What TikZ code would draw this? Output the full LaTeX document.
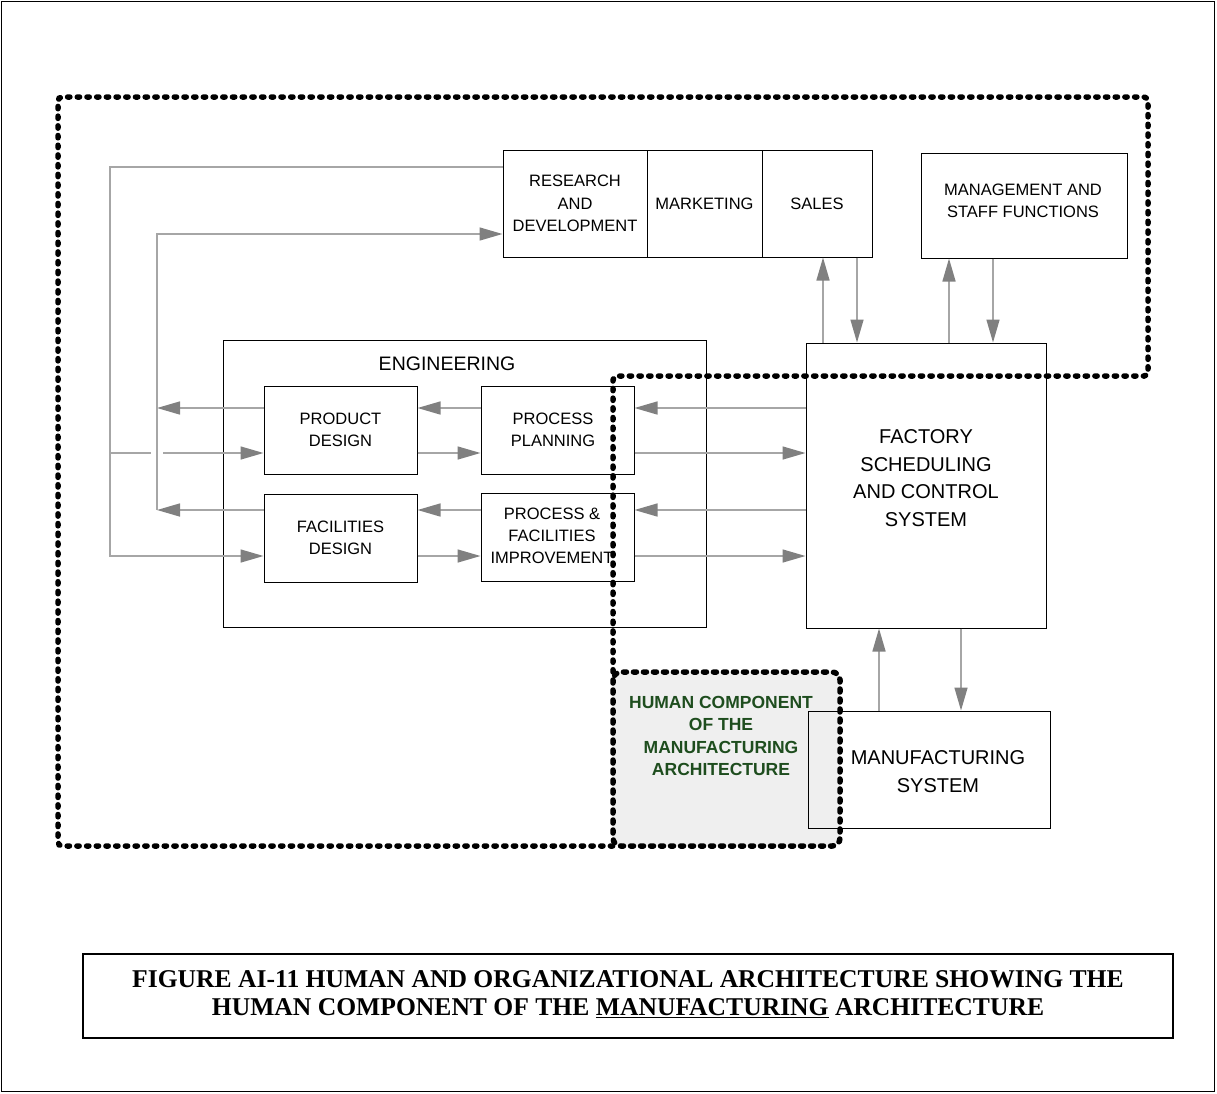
\documentclass[tikz,border=0pt]{standalone}
\usepackage{fontspec}
\setmainfont{Liberation Sans}
\newfontfamily\capfont{Liberation Serif}
\usetikzlibrary{arrows.meta}
\definecolor{linegray}{HTML}{A6A6A6}
\definecolor{tipgray}{HTML}{808080}
\definecolor{humangreen}{HTML}{1E4D1E}
\definecolor{humanfill}{HTML}{EFEFEF}
\begin{document}
\begin{tikzpicture}[x=1pt,y=-1pt,
 box/.style={draw=black, line width=1pt, inner sep=0pt, align=center, font=\fontsize{16.5}{22.5}\selectfont},
 lbl/.style={inner sep=0pt, align=center},
 conn/.style={draw=linegray, line width=1.5pt},
 arr/.style={conn, -{Triangle[length=23pt,width=13pt,color=tipgray]}},
 dotline/.style={line width=5.5pt, dash pattern=on 2.3pt off 7.4pt, line cap=round, rounded corners=4pt},
 humanline/.style={line width=5.5pt, dash pattern=on 3pt off 7pt, line cap=round, rounded corners=8pt},
]
\useasboundingbox (0,0) rectangle (1217,1093);
\draw[line width=1pt] (1,1) rectangle (1214,1091);

% human component fill (behind everything)
\fill[humanfill, rounded corners=8pt] (613,672) rectangle (840,846);

% boxes
\node[box, minimum width=144pt, minimum height=107pt] (rd) at (575,203.5) {RESEARCH\\AND\\DEVELOPMENT};
\node[box, minimum width=115pt, minimum height=107pt] (mkt) at (704.5,203.5) {MARKETING};
\node[box, minimum width=110pt, minimum height=107pt] (sales) at (817,203.5) {SALES};
\node[box, minimum width=206pt, minimum height=105pt] (mgmt) at (1024,205.5) {};
\node[lbl, font=\fontsize{16.5}{22}\selectfont] (mgmtt) at (1023,201) {MANAGEMENT AND\\STAFF FUNCTIONS};

\node[box, minimum width=483pt, minimum height=287pt] (eng) at (464.5,483.5) {};
\node[lbl, font=\fontsize{19.5}{24}\selectfont] (engt) at (447,364) {ENGINEERING};
\node[box, minimum width=153pt, minimum height=88pt] (pd) at (340.5,430) {PRODUCT\\DESIGN};
\node[box, minimum width=153pt, minimum height=88pt] (pp) at (557.5,430) {};
\node[lbl, font=\fontsize{16.5}{22.5}\selectfont] (ppt) at (553,430) {PROCESS\\PLANNING};
\node[box, minimum width=153pt, minimum height=88pt] (fd) at (340.5,538) {FACILITIES\\DESIGN};
\node[box, minimum width=153pt, minimum height=88pt] (pfi) at (557.5,537) {};
\node[lbl, font=\fontsize{16.5}{22}\selectfont] (pfit) at (552,536) {PROCESS \&\\FACILITIES\\IMPROVEMENT};

\node[box, minimum width=240pt, minimum height=285pt] (fact) at (926,485.5) {};
\node[lbl, font=\fontsize{20}{27.5}\selectfont] (factt) at (926,478) {FACTORY\\SCHEDULING\\AND CONTROL\\SYSTEM};
\node[box, minimum width=242pt, minimum height=117pt] (mfg) at (929,769.5) {};
\node[lbl, font=\fontsize{20}{28}\selectfont] (mfgt) at (938,772) {MANUFACTURING\\SYSTEM};

\node[lbl, font=\fontsize{17.5}{22.5}\selectfont\bfseries, text=humangreen] (humt) at (721,736) {HUMAN COMPONENT\\OF THE\\MANUFACTURING\\ARCHITECTURE};

% helper coordinates
\coordinate (y1) at (0,408);
\coordinate (y2) at (0,453);
\coordinate (y3) at (0,510);
\coordinate (y4) at (0,556);
\coordinate (yr1) at (0,167);
\coordinate (yr2) at (0,234);
\coordinate (xo) at (110,0);
\coordinate (xi) at (157,0);
\coordinate (gl) at (151,0);
\coordinate (gr) at (163,0);
\coordinate (xs1) at (823,0);
\coordinate (xs2) at (857,0);
\coordinate (xm1) at (949,0);
\coordinate (xm2) at (993,0);
\coordinate (xf1) at (879,0);
\coordinate (xf2) at (961,0);

% row 1 (leftward)
\draw[arr] (fact.west |- y1) -- (pp.east |- y1);
\draw[arr] (pp.west |- y1) -- (pd.east |- y1);
\draw[arr] (pd.west |- y1) -- (xi |- y1);
% row 2 (rightward)
\draw[conn] (xo |- y2) -- (gl |- y2);
\draw[arr] (gr |- y2) -- (pd.west |- y2);
\draw[arr] (pd.east |- y2) -- (pp.west |- y2);
\draw[arr] (pp.east |- y2) -- (fact.west |- y2);
% row 3 (leftward)
\draw[arr] (fact.west |- y3) -- (pfi.east |- y3);
\draw[arr] (pfi.west |- y3) -- (fd.east |- y3);
\draw[arr] (fd.west |- y3) -- (xi |- y3);
% row 4 (rightward)
\draw[arr] (fd.east |- y4) -- (pfi.west |- y4);
\draw[arr] (pfi.east |- y4) -- (fact.west |- y4);
% outer feed from R&D
\draw[arr] (rd.west |- yr1) -- (xo |- yr1) -- (xo |- y4) -- (fd.west |- y4);
% inner feedback to R&D
\draw[arr] (xi |- y3) -- (xi |- yr2) -- (rd.west |- yr2);

% vertical arrows
\draw[arr] (xs1 |- fact.north) -- (xs1 |- sales.south);
\draw[arr] (xs2 |- sales.south) -- (xs2 |- fact.north);
\draw[arr] (xm1 |- fact.north) -- (xm1 |- mgmt.south);
\draw[arr] (xm2 |- mgmt.south) -- (xm2 |- fact.north);
\draw[arr] (xf1 |- mfg.north) -- (xf1 |- fact.south);
\draw[arr] (xf2 |- fact.south) -- (xf2 |- mfg.north);

% dotted boundary
\draw[dotline] (613,672) -- (613,376) -- (1148,376) -- (1148,97) -- (58,97) -- (58,846) -- (613,846);
\draw[humanline] (613,672) rectangle (840,846);

% caption
\node[draw, line width=1.2pt, minimum width=1090pt, minimum height=84pt, inner sep=0pt] (capbox) at (628,996) {};
\node[lbl, font=\capfont\bfseries\fontsize{25.6}{28}\selectfont] (cap) at (628,994) {FIGURE AI-11 HUMAN AND ORGANIZATIONAL ARCHITECTURE SHOWING THE\\HUMAN COMPONENT OF THE \underline{MANUFACTURING} ARCHITECTURE};
\end{tikzpicture}
\end{document}
